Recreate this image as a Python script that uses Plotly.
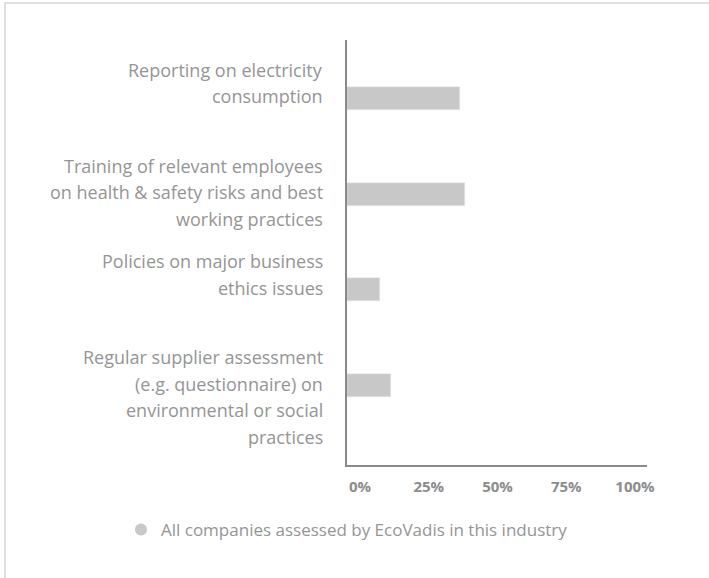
import plotly.graph_objects as go

categories = [
    "Reporting on electricity<br>consumption",
    "Training of relevant employees<br>on health & safety risks and best<br>working practices",
    "Policies on major business<br>ethics issues",
    "Regular supplier assessment<br>(e.g. questionnaire) on<br>environmental or social<br>practices",
]
values = [41, 43, 12, 16]
series_name = "All companies assessed by EcoVadis in this industry"
tick_vals = [0, 25, 50, 75, 100]
tick_text = ["0%", "25%", "50%", "75%", "100%"]

W, H = 709, 578
L, R, T, B = 347, 62, 40, 113
pw, ph = W - L - R, H - T - B

TEXT = "#959595"
TICK = "#8c8c8c"
BAR = "#c8c8c8"
AXIS = "#8a8a8a"
FONT = "Open Sans"

cat_ids = list(range(len(categories)))

fig = go.Figure()
fig.add_trace(go.Bar(
    x=values, y=cat_ids, orientation="h", marker_color=BAR,
    width=0.24, showlegend=False, name=series_name, hoverinfo="x",
))
fig.add_trace(go.Scatter(
    x=[None], y=[None], mode="markers", name=series_name,
    marker=dict(symbol="circle", size=12, color=BAR),
))

annotations = []
for i, cat in enumerate(categories):
    lines = cat.split("<br>")
    for j, line in enumerate(lines):
        annotations.append(dict(
            text=line, xref="paper", yref="y", x=0, y=i,
            xanchor="right", yanchor="middle", xshift=-22,
            yshift=28.5 - 26.5 * j, showarrow=False,
            font=dict(family=FONT, size=18, color=TEXT),
        ))

def px_x(p):
    return (p - L) / pw

def px_y(p):
    return (H - B - p) / ph

fig.update_layout(
    width=W, height=H,
    margin=dict(l=L, r=R, t=T, b=B, pad=0),
    paper_bgcolor="white", plot_bgcolor="white",
    font=dict(family=FONT, color=TEXT),
    bargap=0,
    annotations=annotations,
    xaxis=dict(
        range=[0, 109.1], tickvals=tick_vals, ticktext=tick_text,
        showgrid=False, zeroline=False, showline=True, linecolor=AXIS,
        linewidth=2, ticks="", ticklabelshift=13, ticklabelstandoff=7,
        tickfont=dict(family=FONT, size=15, color=TICK, weight="bold"),
        fixedrange=True,
    ),
    yaxis=dict(
        type="linear", range=[3.83, -0.611], showticklabels=False,
        showgrid=False, zeroline=False, showline=True, linecolor=AXIS,
        linewidth=2, ticks="", fixedrange=True,
    ),
    legend=dict(
        orientation="h", x=px_x(347), y=px_y(530), xanchor="center",
        yanchor="middle", font=dict(family=FONT, size=17, color=TEXT),
        itemsizing="constant", itemwidth=30,
    ),
    shapes=[dict(
        type="rect", xref="paper", yref="paper",
        x0=px_x(5), x1=px_x(730), y0=px_y(600), y1=px_y(3),
        line=dict(color="#e0e0e0", width=2), fillcolor="rgba(0,0,0,0)",
        layer="below",
    )],
)

fig.write_html("out.html")
